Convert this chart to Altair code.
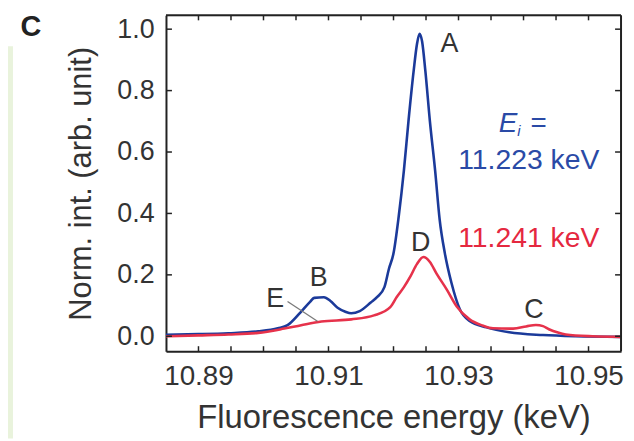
import altair as alt
import pandas as pd

# ---- data ----
blue_e = [10.8850, 10.8900, 10.8946, 10.8992, 10.9022, 10.9037, 10.9057, 10.9072, 10.9078,
          10.9093, 10.9103, 10.9114, 10.9126, 10.9135, 10.9148, 10.9165, 10.9175, 10.9186,
          10.9193, 10.9200, 10.9208, 10.9216, 10.9223, 10.9231, 10.9236, 10.9240, 10.9244,
          10.9249, 10.9256, 10.9264, 10.9271, 10.9279, 10.9289, 10.9302, 10.9317, 10.9343,
          10.9378, 10.9430, 10.9480, 10.9549]
blue_v = [0.005, 0.007, 0.010, 0.016, 0.026, 0.036, 0.078, 0.113, 0.125,
          0.127, 0.115, 0.093, 0.080, 0.075, 0.082, 0.110, 0.128, 0.160,
          0.220, 0.270, 0.390, 0.540, 0.700, 0.864, 0.950, 0.985, 0.960,
          0.864, 0.700, 0.540, 0.380, 0.270, 0.175, 0.088, 0.050, 0.029,
          0.013, 0.004, 0.000, -0.002]

red_e = [10.8850, 10.8900, 10.8946, 10.8992, 10.9032, 10.9058, 10.9089, 10.9135, 10.9170,
         10.9195, 10.9205, 10.9216, 10.9226, 10.9236, 10.9246, 10.9256, 10.9266, 10.9282,
         10.9297, 10.9317, 10.9337, 10.9353, 10.9384, 10.9404, 10.9419, 10.9430, 10.9439,
         10.9453, 10.9465, 10.9506, 10.9549]
red_v = [0.000, 0.003, 0.006, 0.011, 0.025, 0.036, 0.048, 0.055, 0.068,
         0.095, 0.128, 0.160, 0.195, 0.235, 0.258, 0.242, 0.205, 0.152,
         0.098, 0.055, 0.035, 0.026, 0.025, 0.032, 0.037, 0.033, 0.023,
         0.012, 0.006, 0.000, -0.002]

series_names = ["11.223 keV", "11.241 keV"]
series_colors = ["#1b3a9a", "#e6324b"]

peak_labels = ["A", "B", "C", "D", "E"]
peak_label_e = [10.9286, 10.9085, 10.9416, 10.9242, 10.9018]
peak_label_v = [0.951, 0.188, 0.087, 0.304, 0.120]

leader_e = [10.9037, 10.9083]
leader_v = [0.113, 0.049]

x_label_values = [10.89, 10.91, 10.93, 10.95]
x_tick_values = [10.89, 10.895, 10.90, 10.905, 10.91, 10.915, 10.92, 10.925,
                 10.93, 10.935, 10.94, 10.945, 10.95]
y_tick_values = [0.0, 0.2, 0.4, 0.6, 0.8, 1.0]

x_domain = [10.885, 10.955]
y_domain = [-0.0485, 1.045]

W, H = 458, 338
FONT = "Liberation Sans"
TXT = "#333333"
FRAME = "#222222"

xs = alt.Scale(domain=x_domain, nice=False, zero=False)
ys = alt.Scale(domain=y_domain, nice=False, zero=False)

lines_df = pd.concat([
    pd.DataFrame({"e": blue_e, "v": blue_v, "s": series_names[0], "o": 1}),
    pd.DataFrame({"e": red_e, "v": red_v, "s": series_names[1], "o": 0}),
])
labels_df = pd.DataFrame({"e": peak_label_e, "v": peak_label_v, "t": peak_labels})
leader_df = pd.DataFrame({"e": [leader_e[0]], "e2": [leader_e[1]], "v": [leader_v[0]], "v2": [leader_v[1]]})
xt_df = pd.DataFrame({"e": x_tick_values})
yt_df = pd.DataFrame({"v": y_tick_values})

x_axis = alt.Axis(values=x_label_values, format=".2f", labelFont=FONT, labelFontSize=28,
                  labelColor=TXT, labelPadding=12, labelFlush=False, ticks=False, tickSize=0,
                  domain=True, domainColor=FRAME, domainWidth=2, grid=False,
                  title="Fluorescence energy (keV)",
                  titleFont=FONT, titleFontSize=33, titleFontWeight="normal",
                  titleColor=TXT, titlePadding=11)
y_axis = alt.Axis(values=y_tick_values, format=".1f", labelFont=FONT, labelFontSize=27,
                  labelColor=TXT, labelPadding=12, labelFlush=False, ticks=False, tickSize=0,
                  domain=True, domainColor=FRAME, domainWidth=2, grid=False,
                  title="Norm. int. (arb. unit)",
                  titleFont=FONT, titleFontSize=31, titleFontWeight="normal",
                  titleColor=TXT, titlePadding=19)


def X(field="e"):
    return alt.X(f"{field}:Q", scale=xs, axis=x_axis)


def Y(field="v"):
    return alt.Y(f"{field}:Q", scale=ys, axis=y_axis)


lines = alt.Chart(lines_df).mark_line(strokeWidth=2.6, interpolate="monotone").encode(
    x=X(), y=Y(),
    color=alt.Color("s:N", scale=alt.Scale(domain=series_names, range=series_colors), legend=None),
    order=alt.Order("o:Q"),
    detail="s:N",
)

# inward ticks on all four sides
bottom_ticks = alt.Chart(xt_df).mark_rule(color=FRAME, strokeWidth=1.5).encode(
    x=X(), y=alt.value(H), y2=alt.value(H - 5))
top_ticks = alt.Chart(xt_df).mark_rule(color=FRAME, strokeWidth=1.5).encode(
    x=X(), y=alt.value(0), y2=alt.value(5))
left_ticks = alt.Chart(yt_df).mark_rule(color=FRAME, strokeWidth=1.5).encode(
    y=Y(), x=alt.value(0), x2=alt.value(6))
right_ticks = alt.Chart(yt_df).mark_rule(color=FRAME, strokeWidth=1.5).encode(
    y=Y(), x=alt.value(W), x2=alt.value(W - 6))

one = pd.DataFrame({"k": [0]})
frame_top = alt.Chart(one).mark_rule(color=FRAME, strokeWidth=2).encode(
    x=alt.value(0), x2=alt.value(W), y=alt.value(0))
frame_right = alt.Chart(one).mark_rule(color=FRAME, strokeWidth=2).encode(
    x=alt.value(W), y=alt.value(0), y2=alt.value(H))

peak_text = alt.Chart(labels_df).mark_text(font=FONT, fontSize=27, color=TXT).encode(
    x=X(), y=Y(), text="t:N")

leader = alt.Chart(leader_df).mark_rule(color="#7a7a7a", strokeWidth=1.3).encode(
    x=X(), x2="e2:Q", y=Y(), y2="v2:Q")

ei_df = pd.DataFrame({"e": [10.9376], "v": [0.692]})
ei_E = alt.Chart(ei_df).mark_text(font=FONT, fontSize=28, fontStyle="italic", color="#2a4aa6",
                                  align="center").encode(
    x=X(), y=Y(), text=alt.value("E"))
ei_i = alt.Chart(ei_df).mark_text(font=FONT, fontSize=15, fontStyle="italic", color="#2a4aa6",
                                  align="center", dx=11, dy=7).encode(
    x=X(), y=Y(), text=alt.value("i"))
ei_eq = alt.Chart(ei_df).mark_text(font=FONT, fontSize=28, color="#2a4aa6",
                                   align="center", dx=31).encode(
    x=X(), y=Y(), text=alt.value("="))

ann_df = pd.DataFrame({"e": [10.9408, 10.9408], "v": [0.575, 0.320],
                       "t": series_names, "s": series_names})
ann = alt.Chart(ann_df).mark_text(font=FONT, fontSize=28.5).encode(
    x=X(), y=Y(), text="t:N",
    color=alt.Color("s:N", scale=alt.Scale(domain=series_names, range=["#2a4aa6", "#e5283f"]), legend=None))

panel = alt.Chart(one).mark_text(font=FONT, fontSize=29, fontWeight="bold", color="#222222",
                                 align="center", baseline="alphabetic").encode(
    x=alt.value(-136), y=alt.value(21), text=alt.value("C"))
strip = alt.Chart(one).mark_rect(color="#e9f3dc").encode(
    x=alt.value(-159), x2=alt.value(-154), y=alt.value(31), y2=alt.value(426))

chart = alt.layer(
    strip, lines, bottom_ticks, top_ticks, left_ticks, right_ticks, frame_top, frame_right,
    leader, peak_text, ei_E, ei_i, ei_eq, ann, panel
).properties(
    width=W, height=H,
    padding={"left": 159, "top": 6, "right": 5, "bottom": 88},
    autosize=alt.AutoSizeParams(type="none"),
).resolve_scale(color="independent").configure_view(
    stroke=FRAME, strokeWidth=2
).configure(background="white")

chart.save("out.html", embed_options={"renderer": "svg", "actions": False})
